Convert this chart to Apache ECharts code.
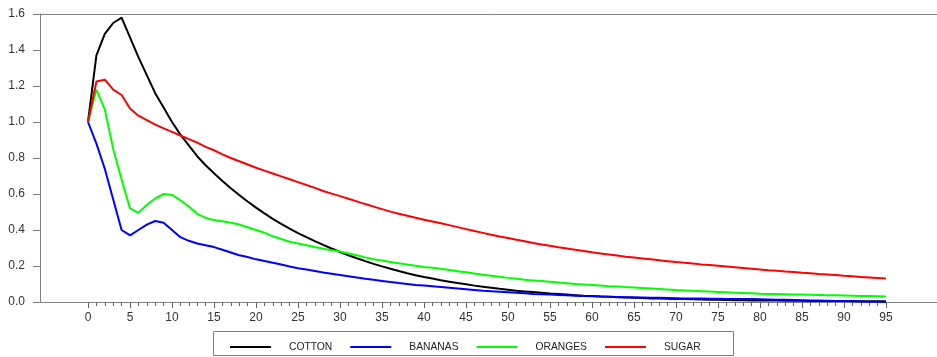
<!DOCTYPE html>
<html>
<head>
<meta charset="utf-8">
<script src="https://cdn.jsdelivr.net/npm/echarts@6/dist/echarts.min.js"></script>
<style>
html,body{margin:0;padding:0;background:#fff;}
#chart{width:937px;height:357px;}
</style>
</head>
<body>
<div id="chart"></div>
<script>
var periods = [0,1,2,3,4,5,6,7,8,9,10,11,12,13,14,15,16,17,18,19,20,21,22,23,24,25,26,27,28,29,30,31,32,33,34,35,36,37,38,39,40,41,42,43,44,45,46,47,48,49,50,51,52,53,54,55,56,57,58,59,60,61,62,63,64,65,66,67,68,69,70,71,72,73,74,75,76,77,78,79,80,81,82,83,84,85,86,87,88,89,90,91,92,93,94,95];

var cotton = [1.00,1.37,1.49,1.55,1.58,1.47,1.36,1.26,1.16,1.08,1.00,0.93,0.87,0.81,0.76,0.715,0.672,0.632,0.594,0.558,0.524,0.492,0.462,0.434,0.408,0.383,0.36,0.338,0.317,0.297,0.278,0.26,0.243,0.227,0.212,0.198,0.185,0.172,0.16,0.149,0.139,0.13,0.121,0.113,0.105,0.098,0.091,0.085,0.079,0.073,0.068,0.063,0.059,0.055,0.051,0.047,0.044,0.041,0.038,0.035,0.033,0.031,0.029,0.027,0.025,0.023,0.022,0.020,0.019,0.018,0.017,0.016,0.015,0.014,0.013,0.012,0.011,0.010,0.010,0.009,0.009,0.008,0.008,0.007,0.007,0.007,0.006,0.006,0.006,0.005,0.005,0.005,0.004,0.004,0.004,0.004];

var bananas = [1.00,0.88,0.74,0.57,0.40,0.37,0.40,0.43,0.45,0.44,0.40,0.36,0.34,0.325,0.315,0.305,0.29,0.275,0.26,0.25,0.237,0.228,0.218,0.208,0.197,0.188,0.18,0.172,0.164,0.157,0.15,0.143,0.136,0.129,0.123,0.117,0.111,0.105,0.10,0.095,0.091,0.087,0.083,0.079,0.075,0.071,0.067,0.063,0.06,0.057,0.054,0.051,0.048,0.045,0.043,0.041,0.039,0.037,0.035,0.033,0.032,0.030,0.029,0.028,0.027,0.026,0.025,0.024,0.023,0.022,0.021,0.020,0.019,0.019,0.018,0.018,0.017,0.017,0.016,0.016,0.015,0.014,0.013,0.012,0.011,0.010,0.009,0.008,0.007,0.006,0.005,0.004,0.003,0.002,0.001,0.0];

var oranges = [1.00,1.18,1.07,0.85,0.68,0.52,0.495,0.54,0.575,0.60,0.595,0.565,0.53,0.49,0.467,0.455,0.448,0.44,0.43,0.415,0.40,0.385,0.365,0.35,0.335,0.325,0.315,0.305,0.296,0.288,0.28,0.27,0.26,0.248,0.238,0.23,0.222,0.215,0.208,0.201,0.195,0.19,0.185,0.178,0.171,0.165,0.158,0.152,0.146,0.14,0.134,0.129,0.124,0.12,0.116,0.112,0.108,0.104,0.10,0.097,0.094,0.091,0.088,0.086,0.083,0.081,0.078,0.075,0.072,0.069,0.066,0.064,0.062,0.06,0.058,0.056,0.054,0.052,0.05,0.048,0.046,0.045,0.044,0.043,0.042,0.041,0.04,0.039,0.038,0.037,0.036,0.035,0.034,0.033,0.032,0.031];

var sugar = [1.00,1.225,1.235,1.18,1.15,1.075,1.035,1.01,0.985,0.965,0.945,0.925,0.905,0.885,0.862,0.843,0.82,0.80,0.782,0.764,0.746,0.73,0.714,0.698,0.682,0.666,0.65,0.634,0.617,0.602,0.588,0.574,0.559,0.544,0.53,0.516,0.502,0.49,0.479,0.468,0.457,0.447,0.437,0.427,0.416,0.405,0.394,0.384,0.374,0.364,0.355,0.346,0.337,0.328,0.32,0.312,0.304,0.297,0.29,0.283,0.276,0.27,0.264,0.258,0.252,0.247,0.242,0.237,0.232,0.227,0.222,0.218,0.214,0.209,0.205,0.201,0.197,0.193,0.189,0.185,0.181,0.177,0.174,0.17,0.167,0.163,0.16,0.156,0.153,0.15,0.146,0.143,0.139,0.136,0.133,0.13];

var seriesNames = ['COTTON','BANANAS','ORANGES','SUGAR'];
var seriesColors = ['#000000','#0000ff','#00ff00','#ff0000'];

function pairs(arr){ return periods.map(function(p,i){ return [p, arr[i]]; }); }
var allData = [cotton, bananas, oranges, sugar];

var X_MIN = -5.714, X_MAX = 101.07;
var axisGray = '#808080';
var labelColor = '#333333';
var fontFam = '"Liberation Sans", Arial, sans-serif';

var chart = echarts.init(document.getElementById('chart'), null, {renderer:'canvas'});
chart.setOption({
  animation: false,
  backgroundColor: '#ffffff',
  grid: [
    {left: 40, right: 0, top: 14, bottom: 55, containLabel: false},
    {left: 88, right: 51, top: 14, bottom: 55, containLabel: false}
  ],
  xAxis: [
    {
      type: 'value', gridIndex: 0, min: X_MIN, max: X_MAX, position: 'bottom',
      axisLine: {show: true, onZero: false, lineStyle: {color: axisGray, width: 1}},
      axisTick: {show: false}, axisLabel: {show: false}, splitLine: {show: false}
    },
    {
      type: 'value', gridIndex: 0, min: X_MIN, max: X_MAX, position: 'top',
      axisLine: {show: true, onZero: false, lineStyle: {color: axisGray, width: 1}},
      axisTick: {show: false}, axisLabel: {show: false}, splitLine: {show: false}
    },
    {
      type: 'value', gridIndex: 1, min: 0, max: 95, interval: 5, position: 'bottom',
      axisLine: {show: true, onZero: false, lineStyle: {color: axisGray, width: 1}},
      axisTick: {show: true, inside: false, length: 6, lineStyle: {color: '#606060', width: 1}},
      minorTick: {show: true, splitNumber: 5, length: 4, lineStyle: {color: '#606060', width: 1}},
      axisLabel: {show: true, color: labelColor, fontSize: 12, fontFamily: fontFam, margin: 10},
      splitLine: {show: false}, minorSplitLine: {show: false}
    }
  ],
  yAxis: [
    {
      type: 'value', gridIndex: 0, min: 0, max: 1.6, interval: 0.2, position: 'left',
      axisLine: {show: true, onZero: false, lineStyle: {color: axisGray, width: 1}},
      axisTick: {show: true, inside: false, length: 7, lineStyle: {color: axisGray}},
      axisLabel: {color: labelColor, fontSize: 12, fontFamily: fontFam, margin: 15,
        formatter: function(v){ return v.toFixed(1); }},
      splitLine: {show: false}
    },
    {
      type: 'value', gridIndex: 1, min: 0, max: 1.6, interval: 0.2,
      axisLine: {show: false}, axisTick: {show: false}, axisLabel: {show: false}, splitLine: {show: false}
    }
  ],
  legend: {
    left: 225, top: 337,
    itemWidth: 41, itemHeight: 2, itemGap: 18,
    icon: 'rect',
    textStyle: {color: '#222', fontSize: 10.3, fontFamily: fontFam, padding: [0,0,0,13]},
    data: seriesNames
  },
  graphic: [{
    type: 'rect', left: 213, top: 331, z: -1,
    shape: {width: 520, height: 24},
    style: {fill: '#ffffff', stroke: axisGray, lineWidth: 1}
  }],
  series: seriesNames.map(function(name, i){
    return {
      name: name, type: 'line', xAxisIndex: 2, yAxisIndex: 1,
      data: pairs(allData[i]),
      showSymbol: false, symbol: 'none',
      lineStyle: {color: seriesColors[i], width: 2},
      itemStyle: {color: seriesColors[i]},
      clip: false
    };
  })
});
</script>
</body>
</html>
